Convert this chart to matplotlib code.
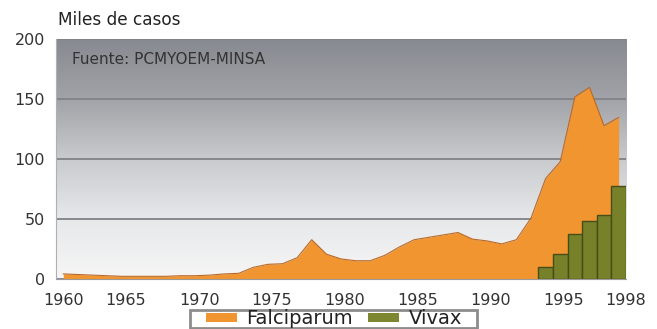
import numpy as np
import matplotlib
matplotlib.use("Agg")
import matplotlib.pyplot as plt
from matplotlib.colors import LinearSegmentedColormap
from matplotlib.patches import Patch, Rectangle

years = list(range(1960, 1999))
falciparum = [4.5, 4, 3.5, 3, 2.5, 2.5, 2.5, 2.5, 3, 3,
              3.5, 4.5, 5, 10, 12.5, 13, 18, 33, 21, 17,
              15.5, 15.5, 20, 27, 33, 35, 37, 39, 33.5, 32,
              29.5, 33, 51, 84, 98, 152, 160, 128, 135]
vivax_years = [1993, 1994, 1995, 1996, 1997, 1998]
vivax = [10, 21, 38, 49, 54, 78]
tick_labels = ["1960", "1965", "1970", "1975", "1980", "1985", "1990", "1995", "1998"]

def main():
	fig = plt.figure(figsize=(6.57, 3.29), dpi=100)
	ax = fig.add_axes([0.0852, 0.151, 0.8676, 0.7295])

	# gray gradient behind the plot
	cmap = LinearSegmentedColormap.from_list("bg", [
		(0.0, "#f6f6f6"), (0.25, "#e7e8ea"), (0.5, "#c9cacd"),
		(0.75, "#a1a3a8"), (1.0, "#86898f")])
	grad = np.linspace(0, 1, 256).reshape(-1, 1)
	ax.imshow(grad, cmap=cmap, origin="lower", aspect="auto",
	          extent=[1959.5, 1998.5, 0, 200], zorder=0)

	ax.fill_between(years, falciparum, color="#f0952f", lw=0, zorder=2)
	ax.plot(years, falciparum, color="#b8692a", lw=0.8, zorder=2)
	ax.bar(vivax_years, vivax, width=1.0, color="#76812a",
	       edgecolor="#464d17", lw=1, zorder=3)

	ax.set_xlim(1959.5, 1998.5)
	ax.set_ylim(0, 200)
	ax.set_yticks([0, 50, 100, 150, 200])
	ax.yaxis.grid(True, color="#808287", lw=1.3)
	for line in ax.get_ygridlines():
		line.set_zorder(1)

	tick_pos = [1960, 1964.25, 1969.3, 1974.25, 1979.25, 1984.25, 1989.25, 1994.25, 1998.5]
	ax.set_xticks(tick_pos)
	ax.set_xticklabels(tick_labels)
	ax.tick_params(axis="x", length=0, pad=9.5, labelsize=11.5, labelcolor="#333333")
	ax.tick_params(axis="y", length=0, pad=8, labelsize=11.5, labelcolor="#333333")

	ax.spines["top"].set_visible(False)
	ax.spines["right"].set_visible(False)
	ax.spines["left"].set_color("#b0b0b0")
	ax.spines["bottom"].set_color("#9a9a9a")
	ax.spines["bottom"].set_zorder(4)

	ax.text(0.028, 0.915, "Fuente: PCMYOEM-MINSA", transform=ax.transAxes,
	        fontsize=11, color="#333333", va="center", ha="left", zorder=5)
	fig.text(58 / 657, 1 - 20 / 329, "Miles de casos", fontsize=12.2,
	         color="#222222", va="center", ha="left")

	# legend box drawn by hand so it can be wide and flat like the original
	fig.patches.append(Rectangle((190 / 657, 1 - 328 / 329), 287 / 657, 18 / 329,
	                             transform=fig.transFigure, facecolor="white",
	                             edgecolor="#8c8c8c", lw=2))
	handles = [Patch(facecolor="#f0952f", label="Falciparum"),
	           Patch(facecolor="#7d8732", label="Vivax")]
	leg = fig.legend(handles=handles, loc="center", bbox_to_anchor=(0.508, 0.031),
	                 ncol=2, fontsize=14, frameon=False,
	                 handlelength=1.6, handleheight=0.35, handletextpad=0.5,
	                 columnspacing=0.75, borderpad=0, borderaxespad=0)
	for t in leg.get_texts():
		t.set_color("#222222")

	fig.savefig("out.png", dpi=100)

if __name__ == "__main__":
	main()
